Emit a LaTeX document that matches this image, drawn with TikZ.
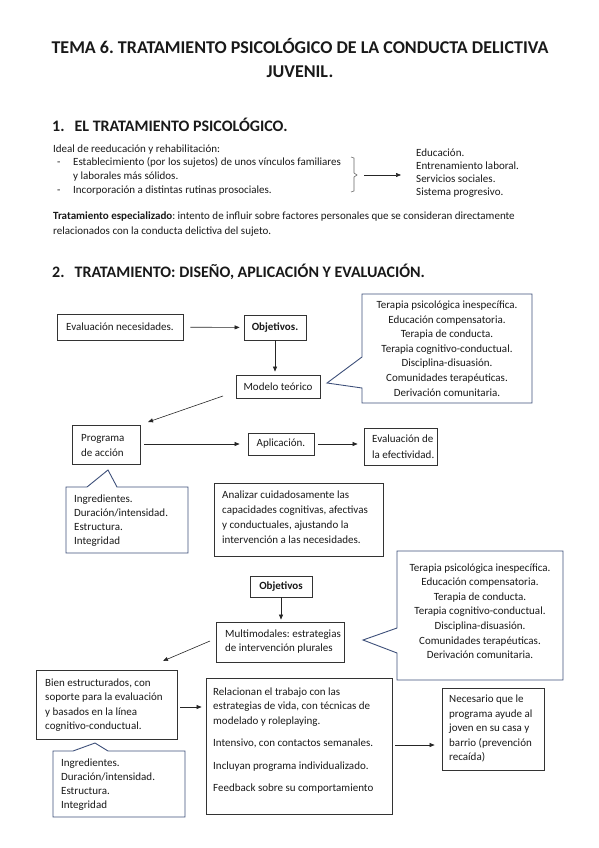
\documentclass[tikz,border=0pt]{standalone}
\usepackage{fontspec}
\setmainfont{Carlito}
\usetikzlibrary{arrows.meta,calc}
\definecolor{cblue}{RGB}{62,80,122}
\definecolor{tcol}{RGB}{25,25,25}
\frenchspacing
\newcommand\mylines[6]{% #1 prefix, #2 anchor, #3 x, #4 first baseline y, #5 spacing, #6 list
  \foreach \tline [count=\i] in {#6} {\node[txt, anchor=#2] (#1\i) at (#3, {#4+(\i-1)*#5}) {\tline};}}
\newcommand\myboxat[5]{% name, x1,y1,x2,y2
  \node[bx, minimum width={#4-#2}, minimum height={#5-#3}] (#1) at ({(#2+#4)/2},{(#3+#5)/2}) {};}
\begin{document}
\begin{tikzpicture}[x=1pt,y=-1pt,
  txt/.style={inner sep=0pt, font=\fontsize{11}{12}\selectfont, text=tcol},
  bx/.style={draw=black!80, line width=0.8pt, inner sep=0pt, font=\fontsize{11}{12}\selectfont, text=tcol},
  call/.style={draw=cblue, line width=0.9pt, fill=white, line join=miter},
  arr/.style={-{Triangle[length=5pt,width=4pt]}, line width=0.6pt, draw=black!85},
  ttl/.style={inner sep=0pt, font=\fontsize{18}{20}\bfseries, text=tcol},
  hd/.style={inner sep=0pt, font=\fontsize{16}{18}\bfseries, text=tcol, anchor=base west}]
\useasboundingbox (0,0) rectangle (599,848);

% ---- Title
\node[ttl, anchor=base] (t1) at (300,54) {TEMA 6. TRATAMIENTO PSICOLÓGICO DE LA CONDUCTA DELICTIVA};
\node[ttl, anchor=base] (t2) at (300,78) {JUVENIL.};

% ---- Section 1
\node[hd] (h1) at (52,131.5) {1.\hspace{10pt}EL TRATAMIENTO PSICOLÓGICO.};
\node[txt, anchor=base west] (ideal) at (53,152) {Ideal de reeducación y rehabilitación:};
\node[txt, anchor=base west] (d1) at (57,165) {-};
\node[txt, anchor=base west] (d2) at (57,193) {-};
\mylines{li}{base west}{73}{165}{14}{{Establecimiento (por los sujetos) de unos vínculos familiares},{y laborales más sólidos.},{Incorporación a distintas rutinas prosociales.}}
\draw[black!60, line width=0.6pt] (351,157) -- (354,158) -- (354,173) -- (357,175) -- (354,177) -- (354,191) -- (351,192);
\coordinate (ba) at (364,175);
\coordinate (bb) at (401,175);
\draw[arr] (ba) -- (bb);
\mylines{ri}{base west}{416}{157}{12.7}{{Educación.},{Entrenamiento laboral.},{Servicios sociales.},{Sistema progresivo.}}
\node[txt, anchor=base west] (te1) at (53,219) {\textbf{Tratamiento especializado}: intento de influir sobre factores personales que se consideran directamente};
\node[txt, anchor=base west] (te2) at (53,234) {relacionados con la conducta delictiva del sujeto.};

% ---- Section 2
\node[hd] (h2) at (52,277.5) {2.\hspace{10pt}TRATAMIENTO: DISEÑO, APLICACIÓN Y EVALUACIÓN.};

% row 1
\node[bx, minimum width=126, minimum height=26] (evnec) at (120,327) {Evaluación necesidades.};
\node[bx, minimum width=62, minimum height=25, font=\fontsize{11}{12}\bfseries] (obj1) at (275,327.5) {Objetivos.};
\draw[arr, shorten <=7pt, shorten >=4pt] (evnec) -- (obj1);
\node[bx, minimum width=84, minimum height=23] (modelo) at (278,386.5) {Modelo teórico};
\draw[arr, shorten >=3pt] (obj1.south) -- (obj1.south |- modelo.north);

% callout 1
\draw[call] (362,294) -- (532,294) -- (532,403) -- (362,403) -- (362,388) -- (327,383) -- (362,357) -- cycle;
\mylines{ca}{base}{447}{308.5}{14.6}{{Terapia psicológica inespecífica.},{Educación compensatoria.},{Terapia de conducta.},{Terapia cognitivo-conductual.},{Disciplina-disuasión.},{Comunidades terapéuticas.},{Derivación comunitaria.}}

% row 2
\myboxat{prog}{72}{425}{140}{464}
\mylines{pr}{base west}{81}{441.5}{15}{{Programa},{de acción}}
\coordinate (m1) at (223,396);
\coordinate (p1) at (148,422);
\draw[arr] (m1) -- (p1);
\node[bx, minimum width=66, minimum height=22] (aplic) at (281,444) {Aplicación.};
\myboxat{evalef}{364}{428}{437}{465}
\mylines{ev}{base west}{372}{442.5}{15.5}{{Evaluación de},{la efectividad.}}
\draw[arr, shorten <=4pt, shorten >=8pt] (prog.east |- aplic.west) -- (aplic.west);
\draw[arr, shorten <=4pt, shorten >=6pt] (aplic.east) -- (aplic.east -| evalef.west);

% callout 2
\draw[call] (66,487) -- (87,487) -- (108,470) -- (117,487) -- (188,487) -- (188,553) -- (66,553) -- cycle;
\mylines{cb}{base west}{74}{502.5}{14}{{Ingredientes.},{Duración/intensidad.},{Estructura.},{Integridad}}

\myboxat{anal}{214}{483}{383}{556}
\mylines{an}{base west}{222}{498.5}{15}{{Analizar cuidadosamente las},{capacidades cognitivas, afectivas},{y conductuales, ajustando la},{intervención a las necesidades.}}

% row 3
\node[bx, minimum width=62, minimum height=21, font=\fontsize{11}{12}\bfseries] (obj2) at (281,586.5) {Objetivos};
\myboxat{multi}{216}{622}{344}{662}
\mylines{mu}{base west}{225}{637.5}{14}{{Multimodales: estrategias},{de intervención plurales}}
\draw[arr, shorten >=2pt] (obj2.south) -- (obj2.south |- multi.north);

% callout 3
\draw[call] (397,551) -- (563,551) -- (563,680) -- (397,680) -- (397,653) -- (363,640) -- (397,628) -- cycle;
\mylines{cc}{base}{480}{571}{14.6}{{Terapia psicológica inespecífica.},{Educación compensatoria.},{Terapia de conducta.},{Terapia cognitivo-conductual.},{Disciplina-disuasión.},{Comunidades terapéuticas.},{Derivación comunitaria.}}

% row 4
\myboxat{bien}{36}{670}{177}{739}
\mylines{bi}{base west}{45}{686.5}{14.3}{{Bien estructurados, con},{soporte para la evaluación},{y basados en la línea},{cognitivo-conductual.}}
\coordinate (mu1) at (210,641);
\coordinate (bi1) at (163,661);
\draw[arr] (mu1) -- (bi1);

% callout 4
\draw[call] (53,751) -- (73,751) -- (95,743) -- (108,751) -- (185,751) -- (185,817) -- (53,817) -- cycle;
\mylines{cd}{base west}{61}{766.5}{14}{{Ingredientes.},{Duración/intensidad.},{Estructura.},{Integridad}}

\myboxat{relac}{206}{678}{392}{814}
\mylines{ra}{base west}{213}{695.5}{14.3}{{Relacionan el trabajo con las},{estrategias de vida, con técnicas de},{modelado y roleplaying.}}
\mylines{rb}{base west}{213}{746.5}{22.6}{{Intensivo, con contactos semanales.},{Incluyan programa individualizado.},{Feedback sobre su comportamiento}}
\draw[arr, shorten <=3pt, shorten >=4pt] ($(bien.east)+(0,2.5)$) -- ($(relac.west)+(0,-39)$);

\myboxat{neces}{442}{688}{544}{770}
\mylines{ne}{base west}{449}{702.5}{14.5}{{Necesario que le},{programa ayude al},{joven en su casa y},{barrio (prevención},{recaída)}}
\draw[arr, shorten <=3pt, shorten >=7pt] ($(relac.east)+(0,-1)$) -- ($(relac.east -| neces.west)+(0,-1)$);
\end{tikzpicture}
\end{document}
